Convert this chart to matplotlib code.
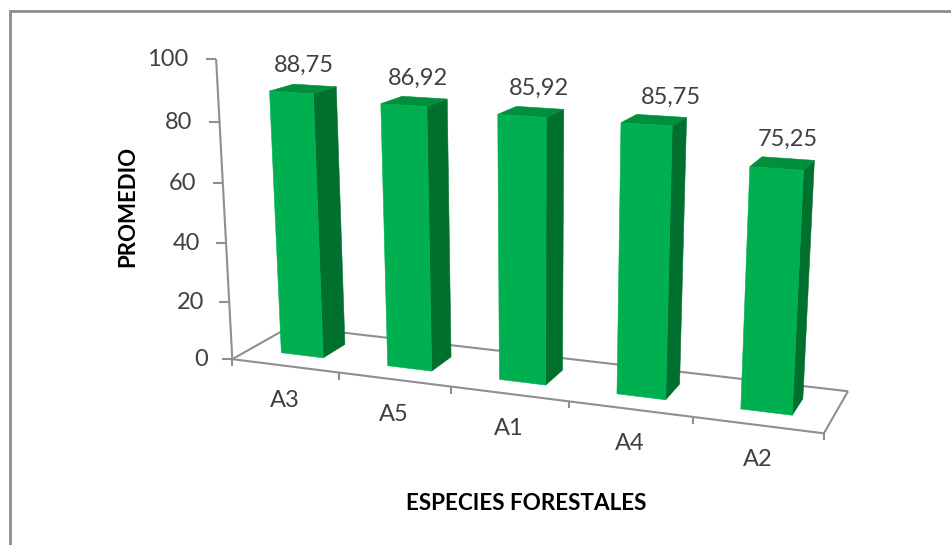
import numpy as np
import matplotlib
matplotlib.use("Agg")
import matplotlib.pyplot as plt
from matplotlib.patches import Polygon

# Chart data
especies = ["A3", "A5", "A1", "A4", "A2"]
promedio = [88.75, 86.92, 85.92, 85.75, 75.25]
etiquetas = ["88,75", "86,92", "85,92", "85,75", "75,25"]
ticks_y = [0, 20, 40, 60, 80, 100]

# Camera calibration: scene point (category position, depth, value) -> canvas pixel
scene_pts = np.array([
    (0, 0, 0), (5, 0, 0), (5, 1, 0), (0, 1, 0), (0, 0, 100),
    (0.3, 0.3, 0), (0.7, 0.3, 0), (0.3, 0.3, 88.75), (0.7, 0.3, 88.75),
    (0.7, 0.7, 88.75), (4.3, 0.3, 0), (4.7, 0.3, 0), (4.3, 0.3, 75.25),
    (4.7, 0.3, 75.25), (4.7, 0.7, 75.25),
], dtype=float)
canvas_pts = np.array([
    (232, 359), (822, 434), (848, 391), (290, 326), (217, 58),
    (282, 353), (323, 358), (269, 92), (313, 93),
    (336, 88), (742, 409), (793, 415), (750, 167),
    (804, 170), (814, 160),
], dtype=float)


def fit_camera(world, image):
    rows, rhs = [], []
    for (x, y, z), (u, v) in zip(world, image):
        rows.append([x, y, z, 1, 0, 0, 0, 0, -u * x, -u * y, -u * z])
        rows.append([0, 0, 0, 0, x, y, z, 1, -v * x, -v * y, -v * z])
        rhs += [u, v]
    # Scale columns so depth, category and value weigh evenly in the solve
    a = np.array(rows)
    scale = np.abs(a).max(axis=0)
    sol = np.linalg.lstsq(a / scale, np.array(rhs), rcond=None)[0] / scale
    return np.append(sol, 1.0).reshape(3, 4)


CAM = fit_camera(scene_pts, canvas_pts)


def project(cat, depth, value):
    p = CAM @ np.array([cat, depth, value, 1.0])
    return p[0] / p[2], p[1] / p[2]


W, H = 951, 545
fig = plt.figure(figsize=(W / 100, H / 100), dpi=100, facecolor="white")
ax = fig.add_axes([0, 0, 1, 1])
ax.set_xlim(0, W)
ax.set_ylim(H, 0)
ax.axis("off")

FONT = ["Lato", "DejaVu Sans"]
GRIS = "#8f8f8f"
TEXTO = "#404040"
FRENTE, LADO, TAPA = "#00b050", "#00702f", "#008f3c"
LW = 1.5


def seg(p, q, **kw):
    ax.plot(*zip(p, q), color=GRIS, lw=LW, solid_capstyle="butt", **kw)


# Outer frame, only the top and left sides are visible
ax.plot([9.5, 9.5, W], [H, 10.5, 10.5], color="#8c8c8c", lw=2.0,
        solid_joinstyle="miter", zorder=1)

# Chart floor, back and left edges sit behind the bars
seg(project(0, 0, 0), project(0, 1, 0), zorder=2)
seg(project(0, 1, 0), project(5, 1, 0), zorder=2)
seg(project(5, 1, 0), project(5, 0, 0), zorder=2)

# Bars
MARGEN = 0.3
for i, v in enumerate(promedio):
    x0, x1 = i + MARGEN, i + 1 - MARGEN
    d0, d1 = MARGEN, 1 - MARGEN
    lado = [project(x1, d0, 0), project(x1, d1, 0), project(x1, d1, v), project(x1, d0, v)]
    tapa = [project(x0, d0, v), project(x1, d0, v), project(x1, d1, v), project(x0, d1, v)]
    frente = [project(x0, d0, 0), project(x1, d0, 0), project(x1, d0, v), project(x0, d0, v)]
    for pts, col in ((lado, LADO), (tapa, TAPA), (frente, FRENTE)):
        ax.add_patch(Polygon(pts, closed=True, facecolor=col, edgecolor=col, lw=0.4, zorder=3))

# Front edge of the floor and its category ticks
seg(project(0, 0, 0), project(5, 0, 0), zorder=4)
for i in range(len(especies) + 1):
    px, py = project(i, 0, 0)
    ax.plot([px, px], [py, py + 7], color=GRIS, lw=LW, solid_capstyle="butt", zorder=4)

# Value axis
seg(project(0, 0, 0), project(0, 0, 100), zorder=4)
for t in ticks_y:
    px, py = project(0, 0, t)
    ax.plot([px - 10, px], [py, py], color=GRIS, lw=LW, solid_capstyle="butt", zorder=4)
    ax.text(px - 24 - 0.04 * t, py + 0.5, str(t), ha="right", va="center",
            fontsize=17, color=TEXTO, family=FONT)

# Category labels
for i, nombre in enumerate(especies):
    px, py = project(i + 0.5, 0, 0)
    ax.text(px, py + 35, nombre, ha="center", va="center", fontsize=17,
            color=TEXTO, family=FONT)

# Value labels above each bar
label_dx = [1, 4, 8, 17, 5]
label_dy = [24, 23, 23, 23, 24]
for i, (v, txt) in enumerate(zip(promedio, etiquetas)):
    px, py = project(i + 0.5, 0.5, v)
    ax.text(px + label_dx[i], py - label_dy[i], txt, ha="center", va="center", fontsize=17,
            color=TEXTO, family=FONT)

# Axis titles
ax.text(128, 206.5, "PROMEDIO", rotation=90, ha="center", va="center",
        fontsize=16, fontweight="bold", color="black", family=FONT)
ax.text(526, 503, "ESPECIES FORESTALES", ha="center", va="center",
        fontsize=16.2, fontweight="bold", color="black", family=FONT)

fig.savefig("out.png", dpi=100)
